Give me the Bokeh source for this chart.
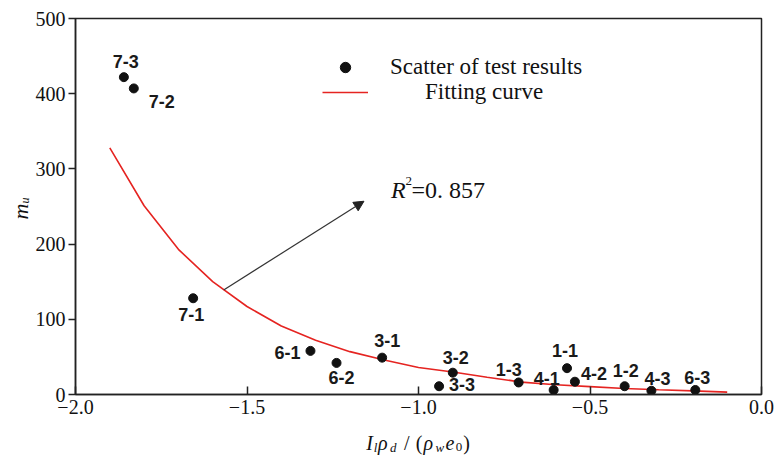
import math
from bokeh.plotting import figure
from bokeh.layouts import column, row
from bokeh.models import (Label, Arrow, NormalHead, Legend, LegendItem,
                          FixedTicker, Range1d, ColumnDataSource)
from bokeh.core.properties import value
from bokeh.embed import file_html
from bokeh.resources import INLINE

# ---------------- data ----------------
sample_ids = ["7-3", "7-2", "7-1", "6-1", "6-2", "3-1", "3-2", "3-3",
              "1-3", "4-1", "1-1", "4-2", "1-2", "4-3", "6-3"]
x_vals = [-1.859, -1.830, -1.657, -1.315, -1.239, -1.106, -0.900, -0.940,
          -0.708, -0.606, -0.567, -0.544, -0.399, -0.321, -0.193]
mu_vals = [422, 407, 128, 58, 42, 49, 29, 11, 16, 6, 35, 17, 11, 5, 6]

fit_x = [-1.90, -1.80, -1.70, -1.60, -1.50, -1.40, -1.30, -1.20, -1.10, -1.00,
         -0.90, -0.80, -0.70, -0.60, -0.50, -0.40, -0.30, -0.20, -0.10]
fit_y = [328, 251, 193, 150, 117, 91, 72, 57, 46, 36,
         30, 23, 16.5, 13, 10.5, 8, 6.3, 4.8, 3.1]

x_ticks = [-2.0, -1.5, -1.0, -0.5, 0.0]
x_tick_labels = ["\u22122.0", "\u22121.5", "\u22121.0", "\u22120.5", "0.0"]
y_ticks = [0, 100, 200, 300, 400, 500]

r2_text = "=0. 857"
arrow_start = (-1.568, 139)
arrow_end = (-1.159, 257)

# label offsets (screen px, style only)
label_dx = [2, 28, -2, -23, 5, 5, 3, 23, -10, -7, -2, 19, 1, 6, 2]
label_dy = [-16, 13, 16, 2, 15, -17, -15, -2, -13, -11, -18, -8, -16, -12, -12]

# ---------------- layout geometry (page px) ----------------
PAGE_W, PAGE_H = 776, 455
YT_W = 31            # width of the strip holding the y title
MAIN_H = 422         # height of the main figure
FL, FR, FT, FB = 75, 761, 18, 394   # frame edges in page px
serif = "Liberation Serif"
INK = "#111111"

# ---------------- main figure ----------------
p = figure(width=PAGE_W - YT_W, height=MAIN_H, output_backend="svg",
           toolbar_location=None,
           x_range=Range1d(-2.0, 0.0), y_range=Range1d(0, 500),
           min_border_left=FL - YT_W, min_border_right=PAGE_W - FR,
           min_border_top=FT, min_border_bottom=MAIN_H - FB)
p.grid.visible = False
p.outline_line_color = "#222222"
p.outline_line_width = 1.5
p.background_fill_color = "white"
p.border_fill_color = "white"

for ax in (p.xaxis, p.yaxis):
    ax.axis_line_color = "#222222"
    ax.axis_line_width = 1.5
    ax.major_tick_line_color = "#222222"
    ax.major_tick_line_width = 1.5
    ax.minor_tick_line_color = None
    ax.major_label_text_font = serif
    ax.major_label_text_font_size = "20px"
    ax.major_label_text_color = INK

p.xaxis.ticker = FixedTicker(ticks=x_ticks)
p.xaxis.major_label_overrides = {t: l for t, l in zip(x_ticks, x_tick_labels)}
p.xaxis.major_tick_in = 8
p.xaxis.major_tick_out = 0
p.xaxis.major_label_standoff = 5

p.yaxis.ticker = FixedTicker(ticks=y_ticks)
p.yaxis.major_tick_in = 0
p.yaxis.major_tick_out = 7
p.yaxis.major_label_standoff = 3

r_ln = p.line(fit_x, fit_y, line_color="#e52421", line_width=1.6)
r_sc = p.scatter(x_vals, mu_vals, size=9, fill_color=INK, line_color=INK)

src = ColumnDataSource(dict(x=x_vals, y=mu_vals, label=sample_ids,
                            dx=label_dx, dy=label_dy))
p.text(x="x", y="y", text="label", x_offset="dx", y_offset="dy", source=src,
       text_font=value("Liberation Sans"), text_font_style="bold",
       text_font_size="18px", text_align="center", text_baseline="middle",
       text_color="#1a1a1a")

p.add_layout(Arrow(end=NormalHead(size=10, fill_color="#222222", line_color="#222222"),
                   x_start=arrow_start[0], y_start=arrow_start[1],
                   x_end=arrow_end[0], y_end=arrow_end[1],
                   line_color="#333333", line_width=1.2))

leg_style = dict(border_line_color=None, background_fill_alpha=0, padding=0,
                 margin=0, glyph_width=46, glyph_height=26, label_height=26,
                 label_text_font=serif, label_text_font_size="23px",
                 label_text_color=INK)
leg1 = Legend(items=[LegendItem(label="Scatter of test results", renderers=[r_sc])],
              location=(247, 314), label_standoff=22, **leg_style)
leg2 = Legend(items=[LegendItem(label="Fitting curve", renderers=[r_ln])],
              location=(247, 289), label_standoff=57, **leg_style)
p.add_layout(leg1)
p.add_layout(leg2)


def add_label(fig, ox, oy, px, py, txt, size, style="normal", align="left",
              baseline="alphabetic", angle=0.0):
    fig.add_layout(Label(x=px - ox, y=py - oy, x_units="canvas", y_units="canvas",
                         text=txt, text_font=serif, text_font_size=f"{size}px",
                         text_font_style=style, text_align=align,
                         text_baseline=baseline, angle=angle, text_color=INK))


# R^2 annotation (inside main frame)
add_label(p, YT_W, 0, 390.5, 189, "R", 24, "italic")
add_label(p, YT_W, 0, 405, 180, "2", 13)
add_label(p, YT_W, 0, 411, 189, r2_text, 24)


def blank(w, h):
    f = figure(width=w, height=h, output_backend="svg", toolbar_location=None,
               x_range=Range1d(0, w), y_range=Range1d(h, 0),
               x_axis_type=None, y_axis_type=None, min_border=0)
    f.grid.visible = False
    f.outline_line_color = None
    f.background_fill_color = "white"
    f.border_fill_color = "white"
    return f


# ---------------- y title strip ----------------
ytf = blank(YT_W, MAIN_H)
add_label(ytf, 0, 0, 19.5, 211, "m", 22, "italic", align="center",
          baseline="middle", angle=math.pi / 2)
add_label(ytf, 0, 0, 24.5, 200, "u", 12, "italic", align="center",
          baseline="middle", angle=math.pi / 2)

# ---------------- x title strip ----------------
xtf = blank(PAGE_W, PAGE_H - MAIN_H)
pieces = [("I", 20, "italic", 0, 0.333), ("l", 13, "italic", 4.5, 0.278),
          ("\u03c1", 20, "italic", 0, 0.52), ("d", 13, "italic", 4.5, 0.5),
          ("/", 20, "normal", 0, 0.80), ("(", 20, "normal", 0, 0.333),
          ("\u03c1", 20, "italic", 0, 0.52), ("w", 13, "italic", 4.5, 0.667),
          ("e", 20, "italic", 0, 0.444), ("0", 13, "normal", 4.5, 0.5),
          (")", 20, "normal", 0, 0.333)]
SPREAD = 1.15
total = sum(sz * w for _, sz, _, _, w in pieces) * SPREAD
xpos = 418 - total / 2
base = 442
for txt, sz, st, shift, w in pieces:
    wpx = sz * w * SPREAD
    if txt == "/":
        add_label(xtf, 0, MAIN_H, xpos + wpx / 2, base, txt, sz, st, align="center")
    else:
        add_label(xtf, 0, MAIN_H, xpos, base + shift, txt, sz, st)
    xpos += wpx

layout = column(row(ytf, p, spacing=0), xtf, spacing=0)
open("out.html", "w").write(file_html(layout, INLINE))
